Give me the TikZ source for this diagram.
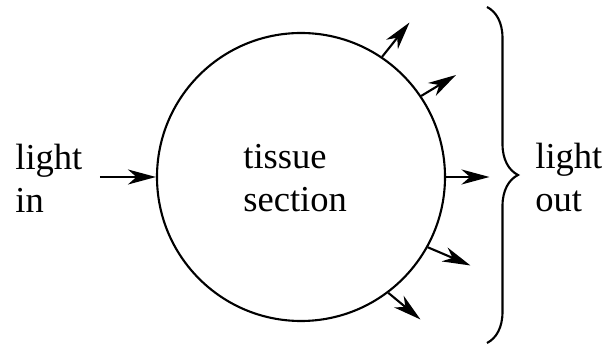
\documentclass[tikz,border=0pt]{standalone}
\usepackage{fontspec}
\setmainfont{Liberation Serif}
\usepackage{tikz}
\usetikzlibrary{arrows.meta,decorations.pathreplacing}

\begin{document}
\begin{tikzpicture}[x=1cm, y=1cm, font=\fontsize{20.8}{25}\selectfont,
  blob/.style={draw, circle, line width=1.2pt, minimum size=5.76cm, inner sep=0pt},
  arr/.style={-{Stealth[length=0.56cm, width=0.3cm, inset=0.17cm]}, line width=1.2pt},
  lbl/.style={anchor=base west, align=left, inner sep=0pt},
  brc/.style={decorate, decoration={brace, amplitude=0.62cm}, line width=1.2pt}]
\useasboundingbox (0,0) rectangle (12.08,6.9);
\node[blob] (tis) at (6.02,3.36) {};
\node[lbl] (tislbl) at (4.86,2.66) {tissue\\section};
\node[lbl] (in)  at (0.3,2.64)  {light\\in};
\node[lbl] (out) at (10.7,2.66) {light\\out};
\coordinate (src) at (2.0,3.36);
\coordinate (o1) at (8.19,6.45);
\coordinate (o2) at (9.12,5.40);
\coordinate (o3) at (9.79,3.36);
\coordinate (o4) at (9.41,1.59);
\coordinate (o5) at (8.41,0.51);
\coordinate (btop) at (9.74,6.76);
\coordinate (bbot) at (9.74,0.04);
\draw[arr] (src) -- (tis.west);
\draw[arr] (tis.56) -- (o1);
\draw[arr] (tis.34) -- (o2);
\draw[arr] (tis.east) -- (o3);
\draw[arr] (tis.-29) -- (o4);
\draw[arr] (tis.-53) -- (o5);
\draw[brc] (btop) -- (bbot);
\end{tikzpicture}
\end{document}
